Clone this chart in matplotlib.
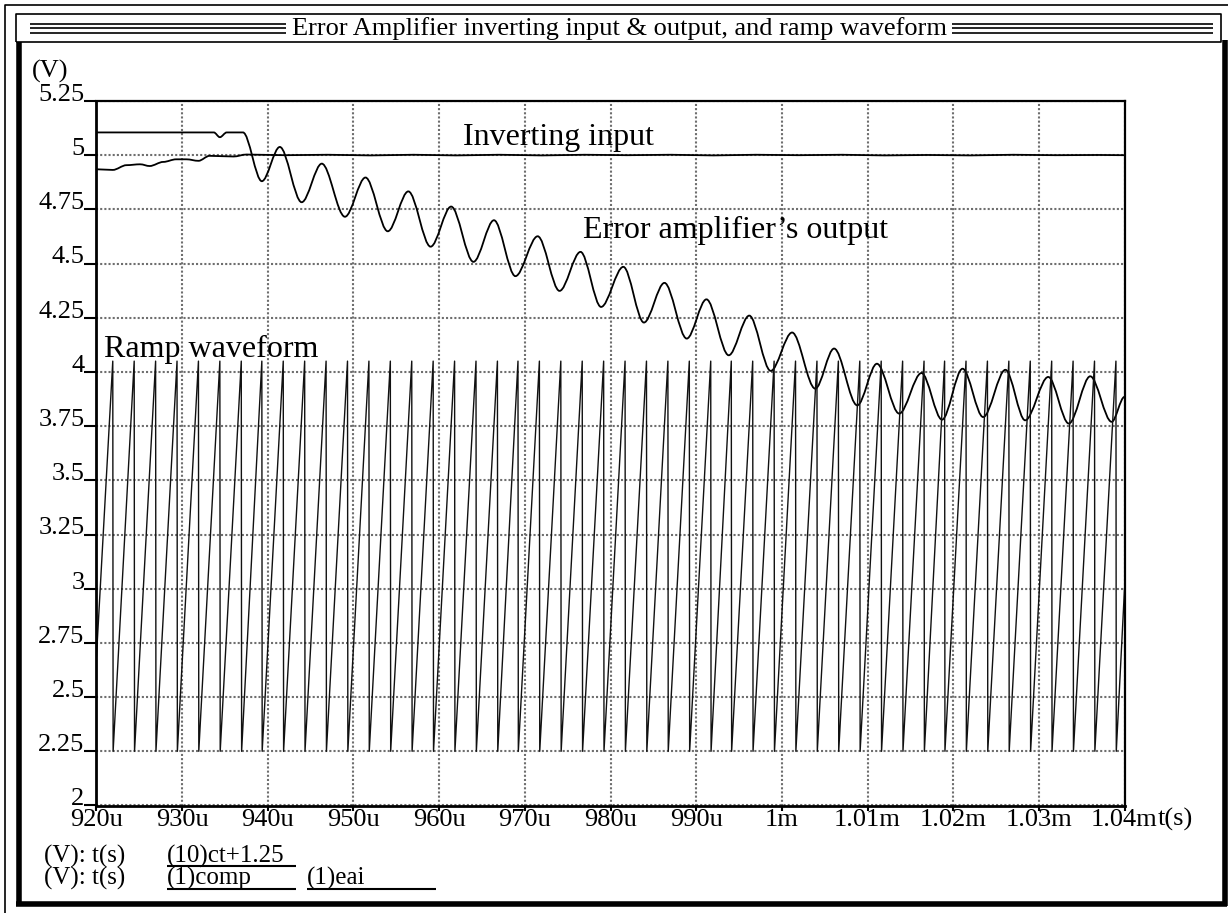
import numpy as np
import matplotlib
matplotlib.use("Agg")
import matplotlib.pyplot as plt
from matplotlib.path import Path
from matplotlib.patches import PathPatch
from matplotlib.lines import Line2D
from matplotlib.transforms import ScaledTranslation

plt.rcParams['font.family'] = ['Liberation Serif', 'DejaVu Serif']

W, H = 1228, 913

# --- Daten, Zeit in us, Spannung in V ---
# Fehlerverstaerker-Ausgang (comp): Extremwerte der Schwingung
comp_t = [920, 933.7, 934.4, 935.2, 937.1, 939.3, 941.4, 943.95, 946.3, 949.0,
          951.4, 954.0, 956.4, 959.0, 961.4, 964.0, 966.4, 968.9, 971.5, 974.05,
          976.5, 978.9, 981.5, 983.9, 986.3, 988.9, 991.2, 993.8, 996.2, 998.7,
          1001.2, 1003.9, 1006.1, 1008.8, 1011.1, 1013.7, 1016.3, 1018.7, 1021.1,
          1023.5, 1026.1, 1028.4, 1031.1, 1033.5, 1036.0, 1038.5, 1040]
comp_v = [5.105, 5.105, 5.083, 5.105, 5.105, 4.88, 5.038, 4.783, 4.961, 4.716,
          4.897, 4.649, 4.833, 4.578, 4.763, 4.508, 4.70, 4.442, 4.626, 4.374,
          4.554, 4.30, 4.485, 4.228, 4.411, 4.154, 4.335, 4.077, 4.26, 4.005,
          4.182, 3.923, 4.108, 3.846, 4.038, 3.808, 3.995, 3.78, 4.015,
          3.792, 4.01, 3.777, 3.977, 3.762, 3.98, 3.77, 3.885]

# invertierender Eingang (eai)
eai_t = [920, 921.9, 923.5, 925.1, 926.2, 927.8, 929.3, 930.5, 931.9, 933.2,
         936.0, 937.5, 942, 947, 952, 957, 962, 967, 972, 977, 982, 987, 992,
         997, 1002, 1007, 1012, 1017, 1022, 1027, 1032, 1037, 1040]
eai_v = [4.935, 4.932, 4.954, 4.958, 4.950, 4.969, 4.981, 4.981, 4.974, 4.997,
         4.994, 5.003, 5.0, 5.002, 4.999, 5.002, 4.999, 5.002, 4.999, 5.002,
         5.0, 5.002, 4.999, 5.002, 5.0, 5.002, 4.999, 5.001, 4.999, 5.002,
         5.0, 5.001, 5.0]

# Rampe (10)ct+1.25: Zeitpunkte des Ruecksprungs
ramp_reset = [921.9, 924.4, 926.9, 929.4, 931.9, 934.4, 936.9, 939.3, 941.8,
              944.3, 946.8, 949.3, 951.8, 954.3, 956.8, 959.3, 961.8, 964.3,
              966.8, 969.2, 971.7, 974.2, 976.7, 979.2, 981.7, 984.2, 986.7,
              989.2, 991.7, 994.1, 996.6, 999.1, 1001.6, 1004.1, 1006.6, 1009.1,
              1011.6, 1014.1, 1016.6, 1019.0, 1021.5, 1024.0, 1026.5, 1029.0,
              1031.5, 1034.0, 1036.5, 1039.0]
ramp_top = 4.05
ramp_bottom = 2.25
ramp_start_v = 2.69
ramp_end_v = 3.0

x_ticks = [920, 930, 940, 950, 960, 970, 980, 990, 1000, 1010, 1020, 1030, 1040]
x_labels = ["920u", "930u", "940u", "950u", "960u", "970u", "980u", "990u",
            "1m", "1.01m", "1.02m", "1.03m", "1.04m"]
y_ticks = [2, 2.25, 2.5, 2.75, 3, 3.25, 3.5, 3.75, 4, 4.25, 4.5, 4.75, 5, 5.25]
y_labels = ["2", "2.25", "2.5", "2.75", "3", "3.25", "3.5", "3.75", "4",
            "4.25", "4.5", "4.75", "5", "5.25"]


def glatter_pfad(t, v):
    # Bezier-Kurve durch die Punkte, waagrechte Tangenten an den Extremwerten
    verts = [(t[0], v[0])]
    codes = [Path.MOVETO]
    for i in range(1, len(t)):
        dt = t[i] - t[i - 1]
        verts += [(t[i - 1] + dt / 3, v[i - 1]), (t[i] - dt / 3, v[i]), (t[i], v[i])]
        codes += [Path.CURVE4] * 3
    return Path(verts, codes)


def fig_linie(xs, ys, lw):
    fig.add_artist(Line2D([x / W for x in xs], [1 - y / H for y in ys],
                          lw=lw, color="black", transform=fig.transFigure,
                          solid_capstyle="butt"))


fig = plt.figure(figsize=(W / 100, H / 100), dpi=100)

# Rahmen
fig_linie([5, 5, W], [H, 5, 5], 1.2)
fig_linie([16, 16, 1221, 1221, 16], [42, 14, 14, 42, 42], 1.2)
fig_linie([18.5, 18.5], [42, 905], 4.0)
fig_linie([16, 1227], [904, 904], 4.0)
fig_linie([1224.5, 1224.5], [40, 906], 4.0)
for yy in [24, 28.5, 33]:
    fig_linie([30, 286], [yy, yy], 1.2)
    fig_linie([952, 1213], [yy, yy], 1.2)
fig.text(619 / W, 1 - 28.5 / H, "Error Amplifier inverting input & output, and ramp waveform",
         ha="center", va="center", fontsize=19)

ax = fig.add_axes([96.5 / W, 1 - 805.5 / H, (1124.5 - 96.5) / W, (805.5 - 101) / H])

# Rampe als Polylinie
rt = [920]
rv = [ramp_start_v]
for r in ramp_reset:
    rt += [r, r + 0.04]
    rv += [ramp_top, ramp_bottom]
rt.append(1040)
rv.append(ramp_end_v)
ax.plot(rt, rv, color="#111111", lw=1.0)

ax.add_patch(PathPatch(glatter_pfad(comp_t, comp_v), fill=False, ec="black", lw=1.3))
ax.add_patch(PathPatch(glatter_pfad(eai_t, eai_v), fill=False, ec="black", lw=1.3))

ax.set_xlim(920, 1040)
ax.set_ylim(2, 5.25)
ax.set_xticks(x_ticks, x_labels)
ax.set_yticks(y_ticks, y_labels)
ax.grid(True, color="#6e6e6e", ls=(0, (1, 1)), lw=1.5)
ax.set_axisbelow(True)
for s in ["left", "bottom"]:
    ax.spines[s].set_linewidth(2.0)
for s in ["top", "right"]:
    ax.spines[s].set_linewidth(1.6)
ax.tick_params(axis="y", direction="out", length=8.6, width=1.5, pad=0, labelsize=19)
ax.tick_params(axis="x", direction="out", length=3.5, width=1.5, pad=-1.2, labelsize=19)
verschiebung = ScaledTranslation(0, 0.2 / 100, fig.dpi_scale_trans)
for lbl in ax.get_yticklabels():
    lbl.set_va("baseline")
    lbl.set_transform(lbl.get_transform() + verschiebung)

ax.annotate("t(s)", xy=(1, 0), xycoords=ax.get_xticklabels()[-1], ha="left", va="bottom", fontsize=19)
fig.text(50 / W, 1 - 71 / H, "(V)", ha="center", va="center", fontsize=19)

ax.text(962.8, 5.046, "Inverting input", fontsize=23, va="baseline")
ax.text(976.8, 4.620, "Error amplifier\u2019s output", fontsize=23, va="baseline")
ax.text(920.85, 4.068, "Ramp waveform", fontsize=23, va="baseline")

# Legende unten
fig.text(44 / W, 1 - 863 / H, "(V): t(s)", fontsize=18, va="baseline")
fig.text(44 / W, 1 - 885 / H, "(V): t(s)", fontsize=18, va="baseline")
fig.text(167 / W, 1 - 863 / H, "(10)ct+1.25", fontsize=18, va="baseline")
fig.text(167 / W, 1 - 885 / H, "(1)comp", fontsize=18, va="baseline")
fig.text(307 / W, 1 - 885 / H, "(1)eai", fontsize=18, va="baseline")
fig_linie([167, 296], [866, 866], 1.5)
fig_linie([167, 296], [889, 889], 1.5)
fig_linie([307, 436], [889, 889], 1.5)

fig.savefig("out.png", dpi=100)
